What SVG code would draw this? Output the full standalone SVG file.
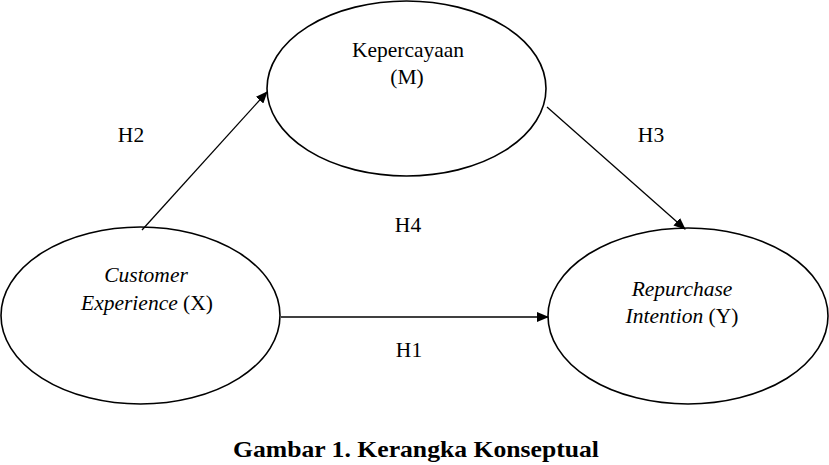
<svg xmlns="http://www.w3.org/2000/svg" width="829" height="465" viewBox="0 0 829 465">
<style>
.node ellipse{fill:#fff;stroke:#000;stroke-width:1.6}
.t{font-family:"Liberation Serif","Times New Roman",serif;font-size:21.5px;fill:#000;text-anchor:middle}
.i{font-style:italic}
.edge{stroke:#000;stroke-width:1.3;fill:none}
</style>
<defs>
<marker id="ah" markerWidth="12" markerHeight="10" refX="11" refY="5" orient="auto" markerUnits="userSpaceOnUse">
<path d="M0,0 L12,5 L0,10 Z" fill="#000"/>
</marker>
</defs>
<rect width="829" height="465" fill="#fff"/>
<g id="node-M" class="node">
<ellipse cx="406.5" cy="88.5" rx="139.5" ry="87.5"/>
<text class="t" x="408" y="57">Kepercayaan</text>
<text class="t" x="407" y="84">(M)</text>
</g>
<g id="node-X" class="node">
<ellipse cx="140.5" cy="315.5" rx="139.5" ry="88.5"/>
<text class="t i" x="146" y="282">Customer</text>
<text class="t" x="147" y="310"><tspan class="i">Experience</tspan> (X)</text>
</g>
<g id="node-Y" class="node">
<ellipse cx="688" cy="316" rx="140" ry="88"/>
<text class="t i" x="682" y="296">Repurchase</text>
<text class="t" x="682" y="323"><tspan class="i">Intention</tspan> (Y)</text>
</g>
<g id="connectors">
<line class="edge" x1="142" y1="230" x2="267" y2="92" marker-end="url(#ah)"/>
<line class="edge" x1="547" y1="107" x2="685" y2="229" marker-end="url(#ah)"/>
<line class="edge" x1="281" y1="317" x2="548" y2="317" marker-end="url(#ah)"/>
</g>
<g id="labels">
<text class="t" x="131" y="142">H2</text>
<text class="t" x="651" y="142">H3</text>
<text class="t" x="408" y="232">H4</text>
<text class="t" x="409" y="357">H1</text>
<text class="t" x="416" y="457" style="font-weight:bold;font-size:24px" textLength="366" lengthAdjust="spacingAndGlyphs">Gambar 1. Kerangka Konseptual</text>
</g>
</svg>
